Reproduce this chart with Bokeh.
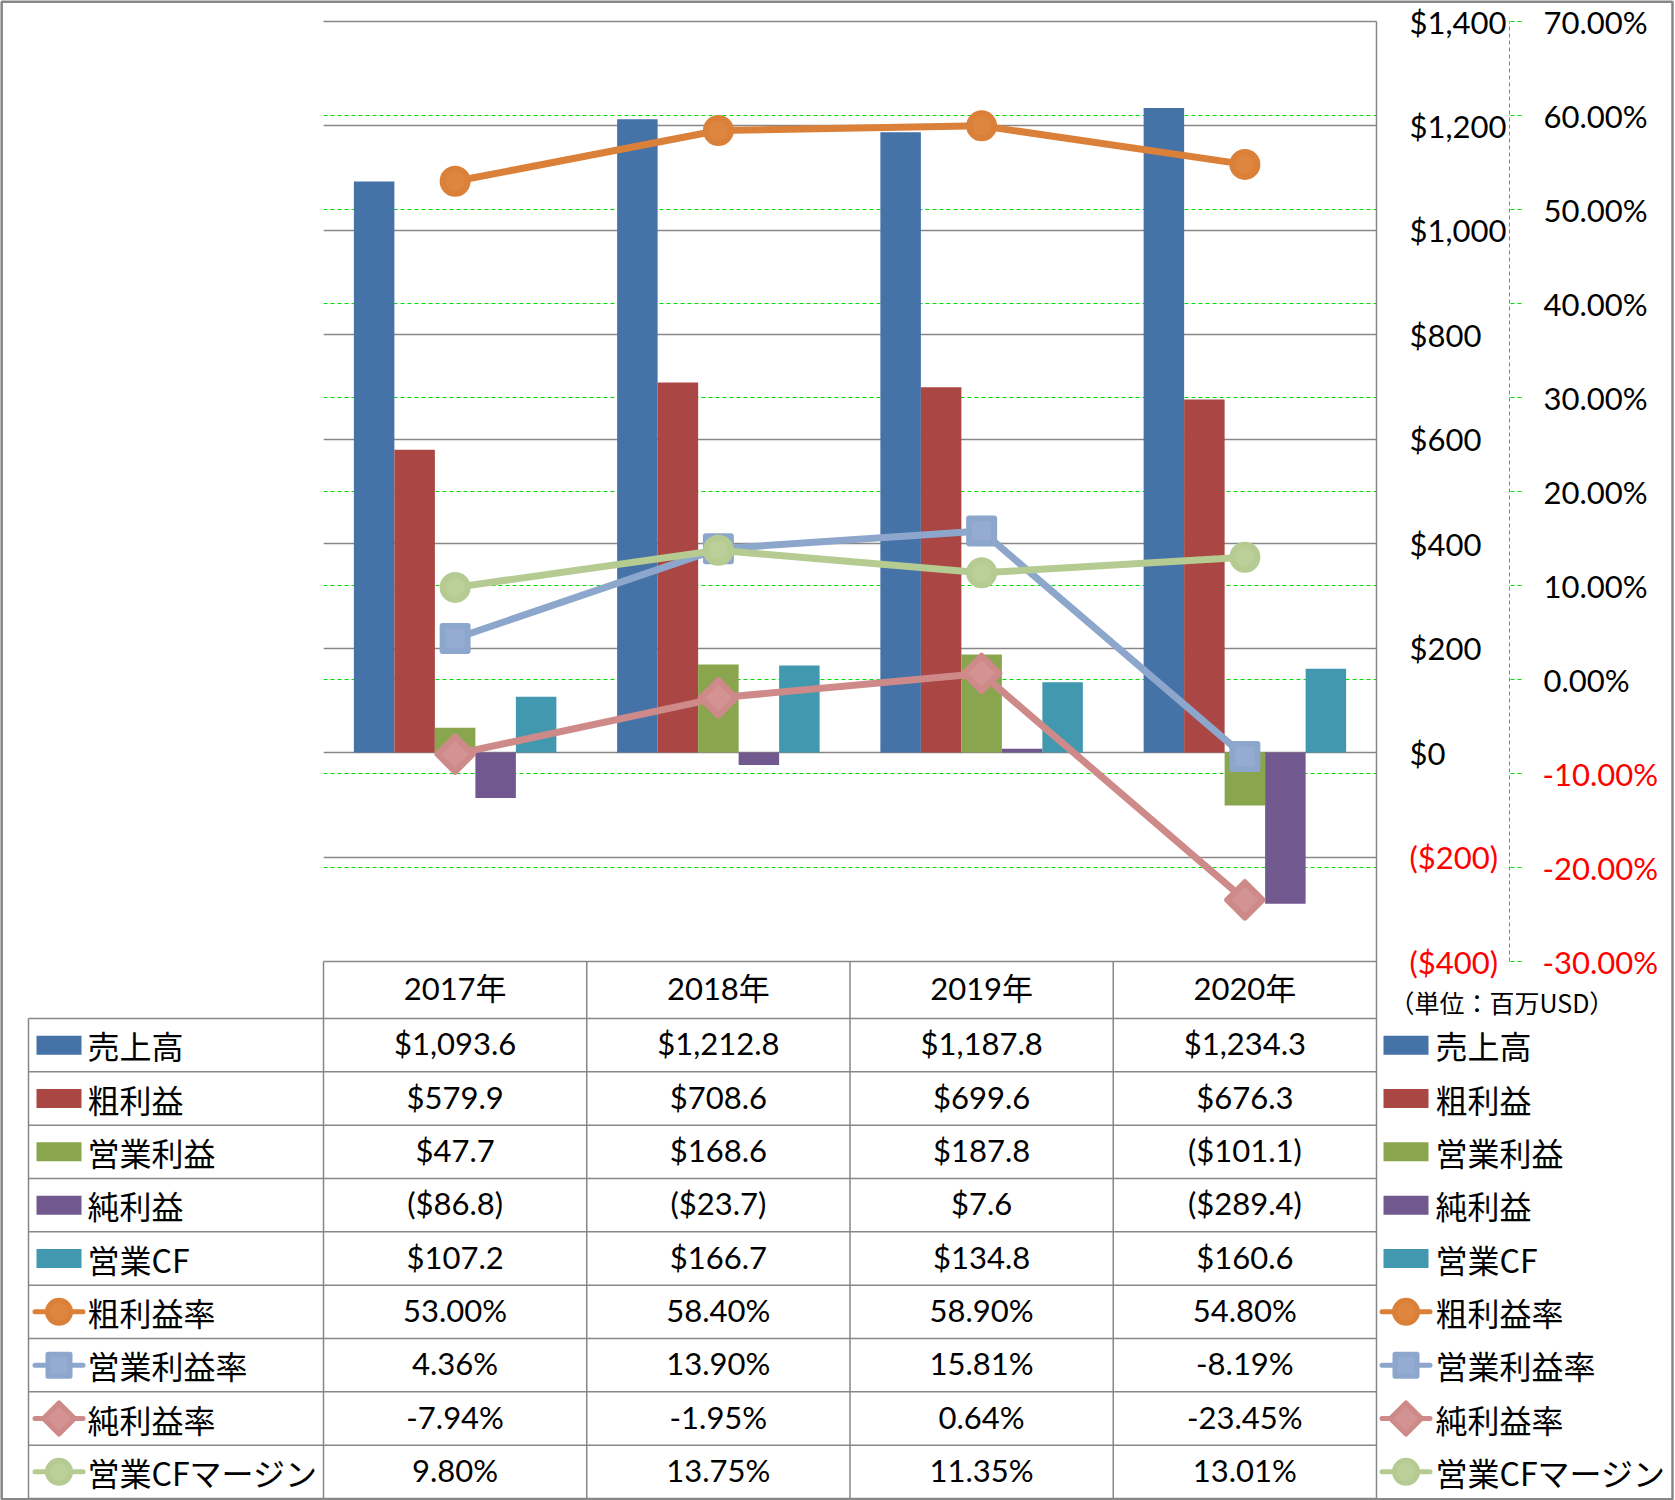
from bokeh.plotting import figure
from bokeh.models import Range1d, LinearAxis, FixedTicker, Grid
from bokeh.core.properties import value
from bokeh.embed import file_html
from bokeh.resources import INLINE

# ---------------- data ----------------
years = ["2017年", "2018年", "2019年", "2020年"]
bar_names = ["売上高", "粗利益", "営業利益", "純利益", "営業CF"]
sales = [1093.6, 1212.8, 1187.8, 1234.3]
gross_profit = [579.9, 708.6, 699.6, 676.3]
op_income = [47.7, 168.6, 187.8, -101.1]
net_income = [-86.8, -23.7, 7.6, -289.4]
op_cf = [107.2, 166.7, 134.8, 160.6]
line_names = ["粗利益率", "営業利益率", "純利益率", "営業CFマージン"]
gross_margin = [53.00, 58.40, 58.90, 54.80]
op_margin = [4.36, 13.90, 15.81, -8.19]
net_margin = [-7.94, -1.95, 0.64, -23.45]
cf_margin = [9.80, 13.75, 11.35, 13.01]
usd_ticks = [-400, -200, 0, 200, 400, 600, 800, 1000, 1200, 1400]
pct_ticks = [-30, -20, -10, 0, 10, 20, 30, 40, 50, 60, 70]
unit_label = "（単位：百万USD）"

bar_values = [sales, gross_profit, op_income, net_income, op_cf]
line_values = [gross_margin, op_margin, net_margin, cf_margin]

# ---------------- styles ----------------
bar_colors = ["#4572A7", "#AA4643", "#89A54E", "#71588F", "#4198AF"]
line_colors = ["#DB8039", "#8DA6CC", "#CE8A89", "#B5CB92"]
fill_colors = ["#DE863F", "#95ABD1", "#D29392", "#BBCF99"]
markers = ["circle", "square", "square", "circle"]
angles = [0, 0, 0.785398, 0]
GRAY = "#878787"
GREEN = "#00E000"
RED = "#FF0000"
NUM_FONT_S = "Lato, Noto Sans CJK JP"
NUM_FONT = value(NUM_FONT_S)
JP_FONT = value("Noto Sans CJK JP")
FS = "31px"


def money(v, dec=1):
    s = f"${abs(v):,.{dec}f}"
    return f"({s})" if v < 0 else s


def pct(v):
    return f"{v:.2f}%"


W, H = 1675, 1500
PL, PR, PT, PB = 323, 1376, 21, 961

p = figure(width=W, height=H, output_backend="svg", toolbar_location=None,
           x_range=Range1d(0, 4), y_range=Range1d(usd_ticks[0], usd_ticks[-1]),
           x_axis_location=None, y_axis_location=None,
           min_border_left=PL, min_border_right=W - PR,
           min_border_top=PT, min_border_bottom=H - PB)
p.outline_line_color = None
p.background_fill_color = "white"
p.border_fill_color = "white"
p.extra_y_ranges = {"pct": Range1d(pct_ticks[0], pct_ticks[-1]), "py": Range1d(PB, PT)}
p.extra_x_ranges = {"px": Range1d(PL, PR)}

# grids
g_pct = Grid(dimension=1, y_range_name="pct", ticker=FixedTicker(ticks=pct_ticks[1:-1]),
             grid_line_color=GREEN, grid_line_dash="4 3", grid_line_width=1)
g_usd = Grid(dimension=1, ticker=FixedTicker(ticks=usd_ticks),
             grid_line_color=GRAY, grid_line_width=1.3)
p.center = [g_pct, g_usd]

# axes
ax1 = LinearAxis(ticker=FixedTicker(ticks=usd_ticks),
                 major_label_overrides={t: (money(t, 0) if t >= 0 else "") for t in usd_ticks},
                 axis_line_color=None, major_tick_line_color=None, minor_tick_line_color=None,
                 major_tick_out=0, major_tick_in=0, major_label_standoff=33,
                 major_label_text_font=NUM_FONT_S, major_label_text_font_size=FS,
                 major_label_text_color="black")
p.add_layout(ax1, "right")
ax2 = LinearAxis(y_range_name="pct", ticker=FixedTicker(ticks=pct_ticks),
                 major_label_overrides={t: (pct(t) if t >= 0 else "") for t in pct_ticks},
                 axis_line_color=GREEN, axis_line_dash="4 3", axis_line_width=1,
                 major_tick_line_color=GREEN, major_tick_line_dash="4 3",
                 minor_tick_line_color=None, major_tick_out=12, major_tick_in=0,
                 major_label_standoff=22,
                 major_label_text_font=NUM_FONT_S, major_label_text_font_size=FS,
                 major_label_text_color="black")
p.add_layout(ax2, "right")

# top border of the plot area (at the 1400 tick)
p.segment(x0=[0], y0=[usd_ticks[-1]], x1=[4], y1=[usd_ticks[-1]], line_color=GRAY,
          line_width=1.3, level="overlay")

# bars
n = len(years)
bw = 1 / 6.5
for k, (vals, col) in enumerate(zip(bar_values, bar_colors)):
    xs = [i + 0.5 + (k - 2) * bw for i in range(n)]
    p.vbar(x=xs, top=vals, bottom=0, width=bw, fill_color=col, line_color=None)

# lines
centers = [i + 0.5 for i in range(n)]
for vals, lc, fc, mk, ang in zip(line_values, line_colors, fill_colors, markers, angles):
    p.line(x=centers, y=vals, y_range_name="pct", line_color=lc, line_width=7, line_join="round")
    p.scatter(x=centers, y=vals, y_range_name="pct", marker=mk, angle=ang, size=25,
              fill_color=fc, line_color=lc, line_width=6, line_join="round")

# red negative tick labels
neg_usd = [t for t in usd_ticks if t < 0]
p.text(x=[1409] * len(neg_usd), y=neg_usd, text=[money(t, 0) for t in neg_usd],
       x_range_name="px", level="overlay", text_color=RED, text_font=NUM_FONT,
       text_font_size=FS, text_align="left", text_baseline="middle")
neg_pct = [t for t in pct_ticks if t < 0]
p.text(x=[1542] * len(neg_pct), y=neg_pct, text=[pct(t) for t in neg_pct],
       x_range_name="px", y_range_name="pct", level="overlay", text_color=RED,
       text_font=NUM_FONT, text_font_size=FS, text_align="left", text_baseline="middle")

# ---------------- data table ----------------
px = dict(x_range_name="px", y_range_name="py", level="overlay")
HEAD_TOP, ROWS_TOP, ROWS_BOT, LEG_L = 961, 1018, 1498, 28
row_names = bar_names + line_names
nrows = len(row_names)
row_h = (ROWS_BOT - ROWS_TOP) / nrows
row_y = [ROWS_TOP + row_h * (r + 0.5) for r in range(nrows)]
TXT_DY = -2

# outer border
p.quad(left=[1.2], right=[1672], top=[1.2], bottom=[1498.8], fill_color=None,
       line_color=GRAY, line_width=2.5, **px)

# horizontal lines
hy = [ROWS_TOP + row_h * r for r in range(nrows + 1)]
p.segment(x0=[PL] + [LEG_L] * len(hy), y0=[HEAD_TOP] + hy,
          x1=[PR] * (len(hy) + 1), y1=[HEAD_TOP] + hy, line_color=GRAY, line_width=1.5, **px)
# vertical lines at category boundaries
p.segment(x0=list(range(n + 1)), y0=[HEAD_TOP] * n + [PT], x1=list(range(n + 1)),
          y1=[ROWS_BOT] * (n + 1), y_range_name="py", level="overlay",
          line_color=GRAY, line_width=1.5)
p.segment(x0=[LEG_L], y0=[ROWS_TOP], x1=[LEG_L], y1=[ROWS_BOT], line_color=GRAY,
          line_width=1.5, **px)

# header
p.text(x=centers, y=[(HEAD_TOP + ROWS_TOP) / 2 + TXT_DY] * n, text=years, y_range_name="py",
       level="overlay", text_font=NUM_FONT, text_font_size=FS, text_align="center",
       text_baseline="middle", text_color="black")

# cells
cell_x, cell_y, cell_t = [], [], []
for r, vals in enumerate(bar_values):
    for i, v in enumerate(vals):
        cell_x.append(centers[i]); cell_y.append(row_y[r] + TXT_DY); cell_t.append(money(v))
for r, vals in enumerate(line_values):
    for i, v in enumerate(vals):
        cell_x.append(centers[i]); cell_y.append(row_y[r + len(bar_values)] + TXT_DY)
        cell_t.append(pct(v))
p.text(x=cell_x, y=cell_y, text=cell_t, y_range_name="py", level="overlay",
       text_font=NUM_FONT, text_font_size=FS, text_align="center",
       text_baseline="middle", text_color="black")

# legends (left inside table, right outside)
nb = len(bar_names)
for sw_x, tx in [(58.5, 87), (1405.5, 1435)]:
    p.rect(x=[sw_x] * nb, y=row_y[:nb], width=45, height=19, fill_color=bar_colors,
           line_color=None, **px)
    for j in range(len(line_names)):
        yy = row_y[nb + j]
        p.segment(x0=[sw_x - 24], y0=[yy], x1=[sw_x + 24], y1=[yy], line_color=line_colors[j],
                  line_width=5, line_cap="round", **px)
        if markers[j] == "circle":
            p.ellipse(x=[sw_x], y=[yy], width=23, height=23, fill_color=fill_colors[j],
                      line_color=line_colors[j], line_width=5, **px)
        else:
            p.rect(x=[sw_x], y=[yy], width=22, height=22, angle=angles[j],
                   fill_color=fill_colors[j], line_color=line_colors[j], line_width=5,
                   line_join="round", **px)
    p.text(x=[tx] * nrows, y=row_y, text=row_names, text_font=JP_FONT, text_font_size="32px",
           text_align="left", text_baseline="middle", text_color="black", **px)

# unit label
p.text(x=[1389], y=[1001], text=[unit_label], text_font=JP_FONT, text_font_size="25px",
       text_align="left", text_baseline="middle", text_color="black", **px)

open("out.html", "w").write(file_html(p, INLINE))
